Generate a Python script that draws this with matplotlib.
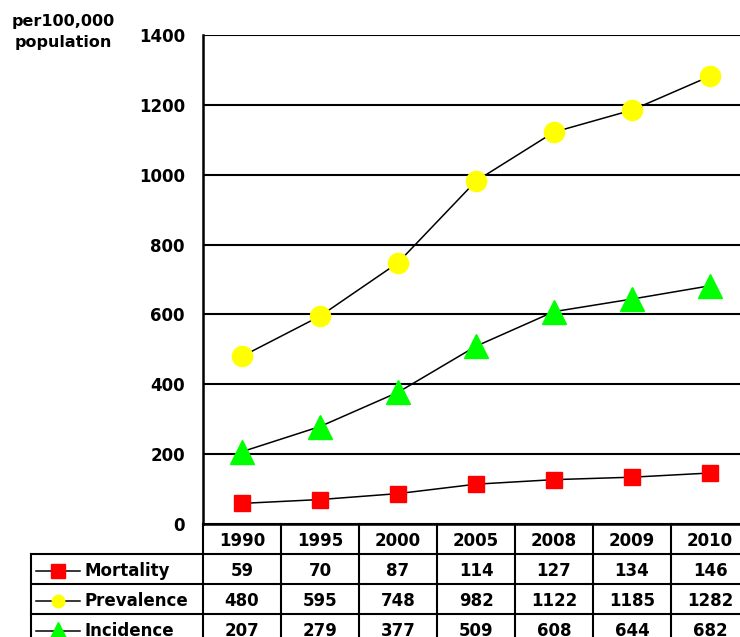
import matplotlib
matplotlib.use("Agg")
import matplotlib.pyplot as plt

plt.rcParams['font.family'] = ['DejaVu Sans']
plt.rcParams['font.weight'] = 'bold'

years = ['1990', '1995', '2000', '2005', '2008', '2009', '2010']
mortality = [59, 70, 87, 114, 127, 134, 146]
prevalence = [480, 595, 748, 982, 1122, 1185, 1282]
incidence = [207, 279, 377, 509, 608, 644, 682]
series_names = ['Mortality', 'Prevalence', 'Incidence']
yticks = [0, 200, 400, 600, 800, 1000, 1200, 1400]

series = [mortality, prevalence, incidence]
styles = [dict(marker='s', color='#ff0000', ms=12, legend_ms=10),
          dict(marker='o', color='#ffff00', ms=14.5, legend_ms=9),
          dict(marker='^', color='#00ff00', ms=17, legend_ms=13)]

W, H = 740, 637
fig = plt.figure(figsize=(W / 100, H / 100), dpi=100)

# main plot area, in pixel layout
ax_l, ax_r, ax_t, ax_b = 203, 749, 35, 524
ax = fig.add_axes([ax_l / W, 1 - ax_b / H, (ax_r - ax_l) / W, (ax_b - ax_t) / H])
xs = list(range(len(years)))
for vals, st in zip(series, styles):
    ax.plot(xs, vals, color='black', lw=1.1, marker=st['marker'], ms=st['ms'],
            markerfacecolor=st['color'], markeredgecolor=st['color'], zorder=3)
ax.set_xlim(-0.5, len(years) - 0.5)
ax.set_ylim(0, 1400)
ax.set_yticks(yticks)
ax.set_yticklabels([str(t) for t in yticks], fontsize=12, fontweight='bold')
ax.tick_params(axis='y', length=0, pad=13)
ax.set_xticks([])
for t in yticks[1:]:
    ax.axhline(t, color='black', lw=1.5, zorder=1)
for side in ['top', 'right']:
    ax.spines[side].set_visible(False)
ax.spines['left'].set_linewidth(1.8)
ax.spines['bottom'].set_linewidth(1.8)

fig.text(63 / W, 1 - 32 / H, 'per100,000\npopulation', ha='center', va='center',
         fontsize=11.5, fontweight='bold', linespacing=1.45)

# data table below the plot
tb_l, tb_r, tb_t, tb_b = 31, 749, 524, 644
px_per_unit = (ax_r - ax_l) / len(years)
x_left = -0.5 - (ax_l - tb_l) / px_per_unit
tax = fig.add_axes([tb_l / W, 1 - tb_b / H, (tb_r - tb_l) / W, (tb_b - tb_t) / H])
tax.set_xlim(x_left, len(years) - 0.5)
tax.set_ylim(4, 0)
tax.axis('off')
lw = 1.5
n = len(years)
# horizontal rules
tax.plot([-0.5, n - 0.5], [0, 0], color='black', lw=lw, clip_on=False)
for r in [1, 2, 3, 4]:
    tax.plot([x_left, n - 0.5], [r, r], color='black', lw=lw, clip_on=False)
# vertical rules
tax.plot([x_left, x_left], [1, 4], color='black', lw=lw, clip_on=False)
for c in range(n + 1):
    tax.plot([c - 0.5, c - 0.5], [0, 4], color='black', lw=lw, clip_on=False)

dy = 0.08
for c, yr in enumerate(years):
    tax.text(c, 0.5 + dy, yr, ha='center', va='center', fontsize=12, fontweight='bold')
for r, (name, vals, st) in enumerate(zip(series_names, series, styles), start=1):
    x0 = x_left + 5 / px_per_unit
    x1 = x_left + 49 / px_per_unit
    xm = x_left + 27 / px_per_unit
    tax.plot([x0, x1], [r + 0.55, r + 0.55], color='black', lw=1.1, clip_on=False)
    tax.plot([xm], [r + 0.55], marker=st['marker'], ms=st['legend_ms'],
             markerfacecolor=st['color'], markeredgecolor=st['color'],
             linestyle='none', clip_on=False)
    tax.text(x_left + 53 / px_per_unit, r + 0.5 + dy, name, ha='left', va='center',
             fontsize=12, fontweight='bold')
    for c, v in enumerate(vals):
        tax.text(c, r + 0.5 + dy, str(v), ha='center', va='center',
                 fontsize=12, fontweight='bold')

fig.savefig('out.png', dpi=100)
